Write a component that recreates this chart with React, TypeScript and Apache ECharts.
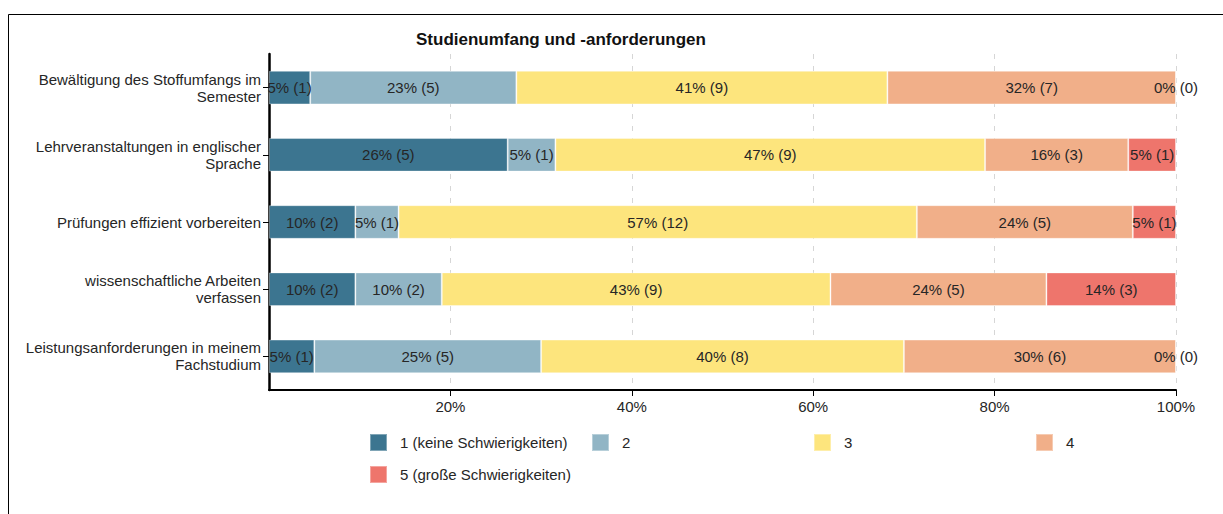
import React, { useEffect, useRef } from "react";
import * as echarts from "echarts";

const categories = [
  "Bewältigung des Stoffumfangs im\nSemester",
  "Lehrveranstaltungen in englischer\nSprache",
  "Prüfungen effizient vorbereiten",
  "wissenschaftliche Arbeiten\nverfassen",
  "Leistungsanforderungen in meinem\nFachstudium",
];

const seriesNames = [
  "1 (keine Schwierigkeiten)",
  "2",
  "3",
  "4",
  "5 (große Schwierigkeiten)",
];

// counts per answer level, one entry per category (top to bottom)
const counts1 = [1, 5, 2, 2, 1];
const counts2 = [5, 1, 1, 2, 5];
const counts3 = [9, 9, 12, 9, 8];
const counts4 = [7, 3, 5, 5, 6];
const counts5 = [0, 1, 1, 3, 0];

const xTicks = [0, 20, 40, 60, 80, 100];

const colors = ["#3c7590", "#91b5c5", "#fde57d", "#f1af89", "#ee756c"];

const title = "Studienumfang und -anforderungen";

const FONT = "'Liberation Sans', Arial, sans-serif";

export default function App() {
  const ref = useRef<HTMLDivElement>(null);

  useEffect(() => {
    if (!ref.current) return;
    const chart = echarts.init(ref.current, undefined, { renderer: "svg" });
    const all = [counts1, counts2, counts3, counts4, counts5];
    const totals = categories.map((_, i) => all.reduce((s, a) => s + a[i], 0));

    const legendPos = [
      { left: 369, top: 433 },
      { left: 591, top: 433 },
      { left: 813, top: 433 },
      { left: 1035, top: 433 },
      { left: 369, top: 465 },
    ];

    const option: any = {
      animation: false,
      textStyle: { fontFamily: FONT },
      title: {
        text: title,
        left: 416,
        top: 31,
        padding: 0,
        textStyle: { fontSize: 17, fontWeight: "bold", color: "#111", fontFamily: FONT },
      },
      legend: seriesNames.map((n, i) => ({
        data: [n],
        left: legendPos[i].left,
        top: legendPos[i].top,
        padding: 0,
        icon: "rect",
        itemWidth: 17,
        itemHeight: 17,
        selectedMode: false,
        textStyle: {
          fontSize: 15,
          color: "#262626",
          fontFamily: FONT,
          padding: [0, 0, 0, 8],
        },
      })),
      graphic: [
        {
          type: "polyline",
          shape: { points: [[8.5, 600], [8.5, 14.5], [1300, 14.5]] },
          style: { stroke: "#000", lineWidth: 1, fill: "none" },
          silent: true,
        },
      ],
      grid: { left: 269, right: 47, top: 54, bottom: 124, containLabel: false },
      xAxis: {
        type: "value",
        min: xTicks[0],
        max: xTicks[xTicks.length - 1],
        interval: 20,
        axisLine: { show: true, onZero: false, lineStyle: { color: "#000", width: 2 } },
        axisTick: { show: true, length: 6, lineStyle: { color: "#000", width: 1 } },
        axisLabel: {
          showMinLabel: false,
          formatter: (v: number) => `${v}%`,
          fontSize: 15,
          color: "#262626",
          margin: 9,
          fontFamily: FONT,
        },
        splitLine: {
          show: true,
          lineStyle: { color: "#d6d6d6", type: [5, 7], width: 1 },
        },
      },
      yAxis: {
        type: "category",
        inverse: true,
        data: categories,
        axisLine: { show: true, lineStyle: { color: "#000", width: 2.5 } },
        axisTick: { show: true, alignWithLabel: true, length: 6, lineStyle: { color: "#000", width: 1 } },
        axisLabel: {
          fontSize: 15,
          lineHeight: 17,
          color: "#262626",
          margin: 8,
          fontFamily: FONT,
          align: "right",
        },
        splitLine: { show: false },
      },
      series: all.map((arr, si) => ({
        name: seriesNames[si],
        type: "bar",
        stack: "total",
        barWidth: "50%",
        itemStyle: { color: colors[si], borderColor: "rgba(255,255,255,0.35)", borderWidth: 1 },
        label: {
          show: true,
          position: "inside",
          fontSize: 15,
          color: "#262626",
          fontFamily: FONT,
          formatter: (p: any) => {
            const c = arr[p.dataIndex];
            return `${Math.round((c / totals[p.dataIndex]) * 100)}% (${c})`;
          },
        },
        labelLayout: { hideOverlap: false },
        data: arr.map((c, i) => (c / totals[i]) * 100),
      })),
    };
    chart.setOption(option);
    return () => chart.dispose();
  }, []);

  return (
    <div
      ref={ref}
      style={{ position: "absolute", left: 0, top: 0, width: 1223, height: 514, background: "#fff" }}
    />
  );
}
